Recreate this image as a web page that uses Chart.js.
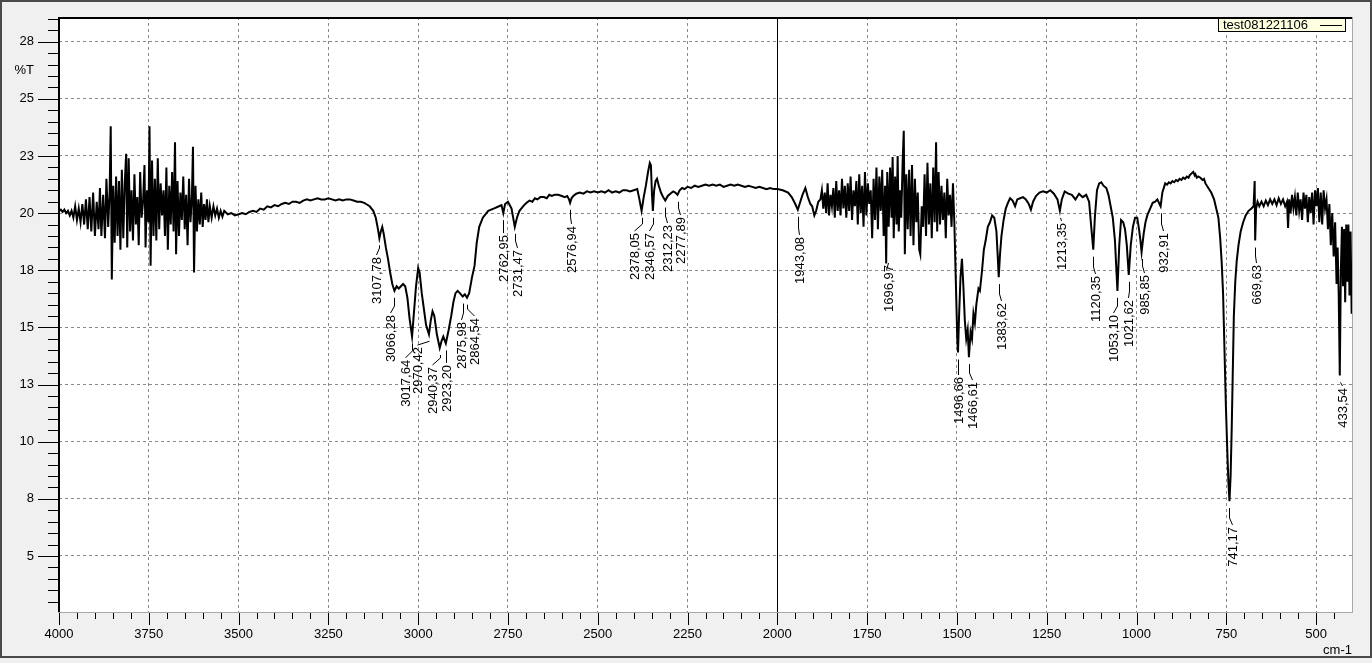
<!DOCTYPE html>
<html><head><meta charset="utf-8">
<script src="https://cdn.jsdelivr.net/npm/chart.js@4.4.1/dist/chart.umd.min.js"></script>
<style>html,body{margin:0;padding:0;background:#f0f0f0;overflow:hidden}canvas{display:block}</style>
</head><body>
<canvas id="c" width="1372" height="663"></canvas>
<script>
const seriesName = 'test081221106';
const xUnitLabel = 'cm-1';
const yUnitLabel = '%T';
const xTickValues = [4000,3750,3500,3250,3000,2750,2500,2250,2000,1750,1500,1250,1000,750,500];
const xTickLabels = ['4000','3750','3500','3250','3000','2750','2500','2250','2000','1750','1500','1250','1000','750','500'];
const yTickValues = [27.5,25,22.5,20,17.5,15,12.5,10,7.5,5];
const yTickLabels = ['28','25','23','20','18','15','13','10','8','5'];

const spectrum4000to3500 = [[4000,20.1],[3995,20.15],[3990,20.05],[3985,20.15],[3980,20.0],[3975,20.1],[3970,19.9],[3965,20.1],[3960,19.8],
[3955,20.3],[3950,19.7],[3945,20.2],[3940,19.6],[3935,20.4],[3930,19.5],[3925,20.6],[3920,19.3],[3915,20.7],[3910,19.2],[3905,20.9],[3900,19.0],[3895,20.5],[3890,19.3],[3886,21.1],[3882,19.0],[3877,20.8],[3872,18.9],[3868,21.5],[3863,19.4],[3859,21.0],[3856,23.8],[3853,17.1],[3849,21.2],[3845,18.7],[3841,21.6],[3837,19.0],[3833,21.4],[3829,18.4],[3825,21.9],[3821,18.9],[3817,21.3],[3813,22.6],[3810,18.5],[3806,22.4],[3802,19.2],[3798,21.0],[3794,18.8],[3790,21.7],[3786,19.5],[3782,20.7],[3778,18.6],[3774,21.8],[3770,19.8],[3766,20.5],[3762,22.1],[3759,18.5],[3755,21.0],[3751,19.6],[3748,23.8],[3745,17.7],[3741,22.3],[3737,19.0],[3733,21.5],[3729,18.8],[3725,22.4],[3721,19.3],[3717,21.3],[3713,19.9],[3709,21.0],[3705,19.0],[3701,22.0],[3697,18.4],[3693,21.2],[3689,19.5],[3685,21.8],[3681,19.2],[3677,23.1],[3674,18.2],[3670,21.4],[3666,19.0],[3662,20.9],[3658,19.7],[3654,21.6],[3650,19.3],[3646,20.8],[3642,18.6],[3638,21.5],[3634,19.6],[3630,20.7],[3627,22.9],[3624,17.4],[3620,21.2],[3616,19.2],[3612,20.6],[3608,19.5],[3604,20.9],[3600,19.4],[3596,20.4],[3592,19.7],[3588,20.6],[3584,19.6],[3580,20.3],[3575,19.8],[3570,20.3],[3565,19.9],[3560,20.2],[3555,19.8],[3550,20.1],[3545,19.85],[3540,20.1],[3530,19.95],[3520,20.0],[3510,19.9]];

const spectrum3500to2000 = [[3500,19.95],[3490,20.0],[3480,19.95],[3470,20.05],[3460,20.1],[3450,20.05],[3440,20.2],[3430,20.15],[3420,20.3],[3410,20.25],[3400,20.35],[3390,20.3],[3380,20.4],[3370,20.45],[3360,20.4],[3350,20.5],[3340,20.5],[3330,20.45],[3320,20.55],[3310,20.6],[3300,20.55],[3290,20.6],[3280,20.65],[3270,20.6],[3260,20.6],[3250,20.65],[3240,20.6],[3230,20.55],[3220,20.6],[3210,20.55],[3200,20.6],[3190,20.6],[3180,20.55],[3170,20.5],[3160,20.5],[3150,20.45],[3145,20.4],[3135,20.3],[3125,20.1],[3118,19.8],[3112,19.3],[3108,18.9],[3104,19.2],[3100,19.4],[3096,19.1],[3090,18.5],[3084,18.0],[3078,17.4],[3072,16.9],[3066,16.6],[3060,16.8],[3054,16.7],[3048,16.8],[3042,16.9],[3036,16.8],[3030,16.3],[3024,15.4],[3017,14.6],[3012,15.6],[3006,16.8],[3000,17.6],[2996,17.4],[2990,16.5],[2984,15.8],[2978,15.1],[2970,14.7],[2965,15.3],[2960,15.7],[2955,15.5],[2948,14.7],[2940,14.1],[2935,14.4],[2930,14.6],[2923,14.3],[2915,14.9],[2908,15.5],[2902,16.1],[2896,16.5],[2890,16.6],[2884,16.5],[2876,16.35],[2870,16.45],[2864,16.3],[2858,16.5],[2850,17.2],[2843,17.7],[2837,18.7],[2830,19.4],[2820,19.8],[2805,20.1],[2790,20.2],[2775,20.3],[2768,20.35],[2763,20.0],[2758,20.4],[2750,20.5],[2740,20.2],[2731,19.4],[2725,19.8],[2718,20.1],[2705,20.35],[2698,20.45],[2690,20.55],[2682,20.5],[2675,20.65],[2668,20.6],[2660,20.7],[2650,20.7],[2642,20.65],[2635,20.8],[2628,20.75],[2620,20.8],[2610,20.8],[2600,20.75],[2592,20.7],[2585,20.75],[2580,20.6],[2577,20.45],[2573,20.65],[2568,20.75],[2560,20.85],[2550,20.9],[2540,20.85],[2530,20.95],[2520,20.9],[2510,20.95],[2500,20.9],[2490,20.95],[2480,20.9],[2470,21.0],[2460,20.9],[2450,20.95],[2440,20.9],[2430,21.0],[2420,21.0],[2410,20.95],[2400,21.0],[2390,21.05],[2384,20.6],[2378,20.1],[2372,20.7],[2366,21.2],[2360,21.8],[2355,22.2],[2352,22.1],[2349,20.8],[2346.5,20.1],[2343,21.0],[2339,21.4],[2335,21.5],[2330,21.2],[2324,20.9],[2318,20.7],[2312,20.55],[2305,20.75],[2298,20.85],[2290,20.95],[2284,20.9],[2278,20.8],[2272,21.0],[2265,21.1],[2258,21.05],[2250,21.15],[2240,21.1],[2230,21.2],[2220,21.15],[2210,21.2],[2200,21.25],[2190,21.2],[2180,21.25],[2170,21.2],[2160,21.25],[2150,21.15],[2140,21.2],[2130,21.25],[2120,21.2],[2110,21.25],[2100,21.2],[2090,21.15],[2080,21.2],[2070,21.15],[2060,21.1],[2050,21.15],[2040,21.1],[2030,21.05],[2020,21.1],[2010,21.05]];

const spectrum2000to1500 = [[2000,21.05],[1985,21.0],[1970,20.9],[1960,20.7],[1950,20.4],[1943,20.15],[1938,20.4],[1930,20.8],[1922,21.1],[1915,20.7],[1908,20.4],[1903,20.3],[1897,19.9],[1892,20.1],[1886,20.5],[1880,20.6],
[1876,21.0],[1872,20.2],[1868,20.9],[1864,20.0],[1860,21.3],[1856,19.9],[1852,20.8],[1848,20.3],[1844,21.1],[1840,19.8],[1836,21.4],[1832,20.1],[1828,21.0],[1824,19.9],[1820,21.5],[1816,20.2],[1812,21.2],[1808,19.8],[1804,21.3],[1800,20.1],[1796,21.6],[1792,19.7],[1788,21.0],[1784,20.3],[1780,21.4],[1776,19.5],[1772,21.7],[1768,20.0],[1764,21.2],[1760,19.4],[1756,21.8],[1752,19.9],[1748,21.3],[1744,20.4],[1740,21.0],[1736,18.9],[1732,21.5],[1728,19.7],[1724,22.0],[1720,19.3],[1716,21.6],[1712,20.1],[1708,21.9],[1704,19.0],[1700,21.2],[1697,17.8],[1694,21.8],[1690,19.4],[1686,22.0],[1682,19.8],[1679,22.45],[1676,18.9],[1672,21.6],[1668,19.5],[1665,22.5],[1662,19.2],[1658,21.0],[1655,19.8],[1651,22.3],[1648,23.6],[1645,18.2],[1641,21.7],[1637,19.3],[1633,21.9],[1629,19.0],[1625,22.1],[1621,18.6],[1617,21.5],[1613,19.6],[1609,20.9],[1605,18.4],[1602,18.2],[1598,20.3],[1594,19.4],[1590,21.7],[1586,19.0],[1582,22.2],[1578,19.5],[1574,21.3],[1570,18.9],[1566,22.0],[1562,19.6],[1558,23.1],[1555,19.2],[1551,21.8],[1547,19.5],[1543,21.2],[1539,19.7],[1535,20.9],[1531,18.9],[1527,21.5],[1523,19.9],[1519,20.8],[1515,19.4],[1511,21.3],[1507,19.5]];

const spectrum1500to400 = [[1503,17.0],[1499,14.5],[1497,13.9],[1494,15.5],[1490,17.2],[1486,18.0],[1482,16.8],[1478,15.3],[1474,14.5],[1470,14.9],[1466.6,13.7],[1462,14.8],[1458,14.5],[1454,15.6],[1450,15.2],[1446,16.0],[1440,16.7],[1436,16.6],[1430,17.5],[1425,18.4],[1420,18.8],[1414,19.4],[1408,19.6],[1402,19.9],[1396,19.8],[1390,19.2],[1386,18.0],[1383.6,17.2],[1380,18.2],[1376,19.0],[1370,19.7],[1364,20.2],[1358,20.45],[1352,20.65],[1345,20.55],[1338,20.3],[1332,20.6],[1324,20.65],[1316,20.7],[1308,20.6],[1300,20.4],[1294,20.15],[1288,20.5],[1280,20.75],[1270,20.9],[1260,20.95],[1250,20.9],[1240,21.0],[1230,20.85],[1220,20.6],[1213.35,20.1],[1208,20.6],[1200,20.95],[1190,20.85],[1180,20.8],[1170,20.6],[1160,20.85],[1150,20.7],[1140,20.8],[1132,20.5],[1126,19.4],[1120.35,18.4],[1116,19.8],[1110,21.0],[1104,21.3],[1098,21.35],[1092,21.2],[1084,21.1],[1078,20.8],[1072,20.3],[1066,19.8],[1060,18.8],[1053.1,16.6],[1048,18.6],[1043,19.7],[1037,19.6],[1032,19.3],[1027,18.6],[1021.6,17.3],[1016,18.6],[1010,19.4],[1004,19.8],[998,19.8],[993,19.3],[989,18.8],[985.85,18.3],[980,19.1],[975,19.6],[970,19.9],[962,20.2],[955,20.45],[948,20.5],[942,20.6],[936,20.4],[932.9,20.3],[928,20.9],[920,21.3],[915,21.25],[910,21.35],[905,21.3],[900,21.4],[895,21.35],[890,21.45],[885,21.4],[880,21.5],[875,21.45],[870,21.55],[865,21.5],[860,21.6],[855,21.55],[852,21.65],[846,21.75],[842,21.8],[838,21.65],[836,21.7],[832,21.55],[828,21.6],[822,21.55],[816,21.45],[812,21.5],[808,21.3],[800,21.1],[792,20.9],[784,20.6],[778,20.2],[772,19.8],[767,18.9],[763,17.9],[759,16.5],[755,14.0],[751,11.5],[747,9.5],[744,8.2],[741.17,7.4],[738,8.5],[735,10.5],[732,13.0],[729,15.5],[725,17.0],[721,17.9],[716,18.6],[710,19.2],[703,19.6],[696,19.9],[688,20.1],[680,20.2],[674,20.3],[671,21.4],[669.6,18.8],[667,20.2],[663,20.5],[658,20.3],[652,20.5],[646,20.3],[640,20.55],[634,20.35],[628,20.6],[622,20.4],[616,20.6],[610,20.35],[604,20.65],[598,20.4],[592,20.6],[586,20.3],[581,20.5],[578,19.35],[575,20.6],[571,20.0],[567,20.8],[563,20.2],[559,20.7],[555,19.9],[551,20.9],[547,20.1],[543,20.6],[539,19.7],[535,20.9],[531,20.2],[527,20.8],[523,19.6],[519,20.7],[515,20.0],[511,20.9],[507,19.5],[503,21.0],[499,20.3],[495,21.1],[491,19.6],[487,20.9],[483,19.5],[479,21.0],[475,20.2],[471,20.6],[467,19.3],[463,20.4],[459,18.6],[455,20.0],[451,18.1],[447,19.6],[443,16.9],[440,18.5],[437,16.4],[434,12.9],[431,17.5],[428,19.4],[425,16.8],[422,19.3],[419,16.1],[416,19.5],[413,17.0],[410,19.5],[407,16.4],[404,19.2],[401,15.6],[400,16.5]];

const peakWavenumbers = [3107.78,3066.28,3017.64,2970.42,2940.37,2923.20,2875.98,2864.54,2762.95,2731.47,2576.94,2378.05,2346.57,2312.23,2277.89,1943.08,1696.97,1496.66,1466.61,1383.62,1213.35,1120.35,1053.10,1021.62,985.85,932.91,741.17,669.63,433.54];
const peakLabels = ['3107,78','3066,28','3017,64','2970,42','2940,37','2923,20','2875,98','2864,54','2762,95','2731,47','2576,94','2378,05','2346,57','2312,23','2277,89','1943,08','1696,97','1496,66','1466,61','1383,62','1213,35','1120,35','1053,10','1021,62','985,85','932,91','741,17','669,63','433,54'];
const peakLabelX = [3117,3078,3036,3003,2961,2922,2881,2844,2764,2725,2574,2399,2357,2307,2271,1939,1691,1496,1457,1377,1210,1115,1065,1023,979,926,733,667,427];
const peakLabelTop = [18.08,15.54,13.58,14.14,13.27,13.36,15.24,15.41,19.04,18.39,19.44,19.13,19.13,19.48,19.83,18.96,17.73,12.83,12.61,16.07,19.57,17.25,15.54,16.2,17.29,19.13,6.27,17.73,12.35];

const spectrum = [].concat(spectrum4000to3500, spectrum3500to2000, spectrum2000to1500, spectrum1500to400).map(p => ({x: p[0], y: p[1]}));

const FONT = '"Liberation Sans", Arial, sans-serif';

const decor = {
  id: 'decor',
  beforeDraw(chart) {
    const {ctx, chartArea: a} = chart;
    ctx.save();
    ctx.fillStyle = '#f0f0f0';
    ctx.fillRect(0, 0, chart.width, chart.height);
    ctx.strokeStyle = '#4a4a4a';
    ctx.lineWidth = 2;
    ctx.strokeRect(1, 1, chart.width - 2, 656);
    ctx.fillStyle = '#ffffff';
    ctx.fillRect(a.left, a.top, a.right - a.left, a.bottom - a.top);
    ctx.restore();
  },
  afterDatasetsDraw(chart) {
    const {ctx, scales: {x, y}} = chart;
    const pts = chart.data.datasets[0].data;
    ctx.save();
    ctx.strokeStyle = '#000';
    ctx.fillStyle = '#000';
    ctx.lineWidth = 1;
    ctx.font = '13px ' + FONT;
    peakWavenumbers.forEach((w, i) => {
      let best = pts[0];
      for (const p of pts) if (Math.abs(p.x - w) < Math.abs(best.x - w)) best = p;
      const px = Math.round(x.getPixelForValue(w)) + 0.5;
      const py = y.getPixelForValue(best.y);
      const lx = Math.round(x.getPixelForValue(peakLabelX[i])) + 0.5;
      const top = y.getPixelForValue(peakLabelTop[i]);
      const start = py + 7;
      const knee = Math.max(start, top - 9);
      ctx.beginPath();
      ctx.moveTo(px, start);
      ctx.lineTo(px, knee);
      ctx.lineTo(lx, top - 2);
      ctx.stroke();
      ctx.save();
      ctx.translate(lx, top);
      ctx.rotate(-Math.PI / 2);
      ctx.textAlign = 'right';
      ctx.textBaseline = 'middle';
      ctx.fillText(peakLabels[i], 0, 1);
      ctx.restore();
    });
    ctx.restore();
  },
  afterDraw(chart) {
    const {ctx, chartArea: a, scales: {x, y}} = chart;
    ctx.save();
    const p2000 = Math.round(x.getPixelForValue(2000)) + 0.5;
    ctx.strokeStyle = '#000';
    ctx.lineWidth = 1;
    ctx.beginPath(); ctx.moveTo(p2000, a.top); ctx.lineTo(p2000, a.bottom); ctx.stroke();
    ctx.fillStyle = '#000';
    ctx.fillRect(a.left - 1, a.top, a.right - a.left + 1, 2);
    ctx.fillRect(a.left - 1, a.top, 2, a.bottom - a.top);
    ctx.fillStyle = '#a8a8a8';
    ctx.fillRect(a.left - 1, a.bottom, a.right - a.left + 2, 1);
    ctx.fillRect(a.right, a.top, 1, a.bottom - a.top + 1);
    ctx.strokeStyle = '#000';
    for (let v = 450; v <= 4000; v += 50) {
      const px = Math.round(x.getPixelForValue(v)) + 0.5;
      const major = v % 250 === 0;
      ctx.beginPath(); ctx.moveTo(px, a.bottom + 1); ctx.lineTo(px, a.bottom + (major ? 13 : 7)); ctx.stroke();
    }
    for (let v = 3; v <= 28.5; v += 0.5) {
      const py = Math.round(y.getPixelForValue(v)) + 0.5;
      const major = yTickValues.includes(v);
      ctx.beginPath(); ctx.moveTo(a.left - 1, py); ctx.lineTo(a.left - (major ? 21 : 11), py); ctx.stroke();
    }
    ctx.fillStyle = '#000';
    ctx.font = '13px ' + FONT;
    ctx.textAlign = 'right'; ctx.textBaseline = 'middle';
    ctx.fillText(yUnitLabel, 34, y.getPixelForValue(26.25));
    ctx.fillText(xUnitLabel, a.right, 650);
    ctx.fillStyle = '#ffffe1';
    ctx.fillRect(1218, 18, 128, 14);
    ctx.strokeStyle = '#000';
    ctx.strokeRect(1218.5, 18.5, 127, 13);
    ctx.fillStyle = '#000';
    ctx.textAlign = 'left';
    ctx.fillText(seriesName, 1223, 25.5);
    ctx.beginPath(); ctx.moveTo(1320, 25.5); ctx.lineTo(1342, 25.5); ctx.stroke();
    ctx.restore();
  }
};

new Chart(document.getElementById('c'), {
  type: 'line',
  data: { datasets: [{ label: seriesName, data: spectrum, borderColor: '#000', borderWidth: 2, pointRadius: 0, tension: 0, fill: false }] },
  options: {
    responsive: false,
    animation: false,
    layout: { padding: { top: 17, right: 20, left: 0, bottom: 0 } },
    plugins: { legend: { display: false }, tooltip: { enabled: false } },
    scales: {
      x: {
        type: 'linear', reverse: true, min: 400, max: 4000,
        afterBuildTicks: s => { s.ticks = xTickValues.map(v => ({ value: v })); },
        afterFit: s => { s.height = 51; s.paddingLeft = 0; s.paddingRight = 0; s.paddingTop = 0; s.paddingBottom = 0; },
        ticks: { autoSkip: false, maxRotation: 0, color: '#000', font: { family: FONT, size: 13 }, padding: 15,
          callback: (v) => xTickLabels[xTickValues.indexOf(v)] },
        grid: { drawTicks: false, color: c => (c.tick && c.tick.value === 2000) ? 'rgba(0,0,0,0)' : '#8a8a8a', lineWidth: 1 },
        border: { display: false, dash: [3, 3] }
      },
      y: {
        type: 'linear', min: 2.55, max: 28.58,
        afterBuildTicks: s => { s.ticks = yTickValues.map(v => ({ value: v })); },
        afterFit: s => { s.width = 59; s.paddingLeft = 0; s.paddingRight = 0; s.paddingTop = 0; s.paddingBottom = 0; },
        ticks: { autoSkip: false, color: '#000', font: { family: FONT, size: 13 }, padding: 25,
          callback: (v) => yTickLabels[yTickValues.indexOf(v)] },
        grid: { drawTicks: false, color: '#8a8a8a', lineWidth: 1 },
        border: { display: false, dash: [3, 3] }
      }
    }
  },
  plugins: [decor]
});
</script>
</body></html>
